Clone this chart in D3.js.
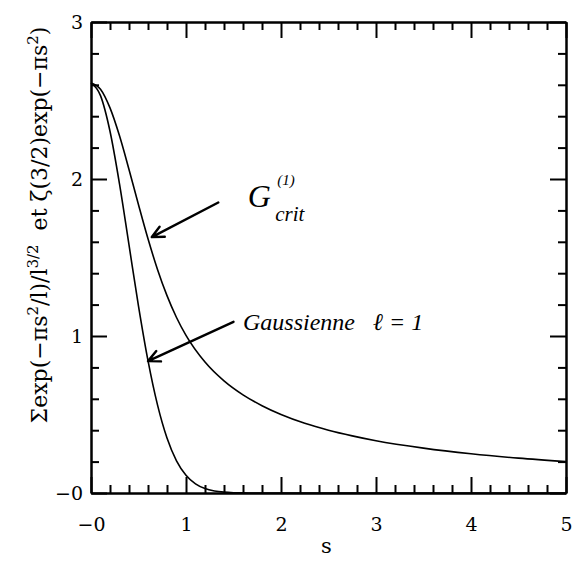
<!DOCTYPE html>
<meta charset="utf-8">
<style>
body { margin: 0; background: #fff; }
.axis path, .axis line { fill: none; stroke: #000; stroke-width: 2; }
.axis text { font: 19px "DejaVu Serif", serif; fill: #000; }
.curve { fill: none; stroke: #000; stroke-width: 1.6; }
.note { font-family: "Liberation Serif", serif; font-style: italic; fill: #000; }
</style>
<body>
<script src="https://d3js.org/d3.v7.min.js"></script>
<script>
var width = 582, height = 574;
var margin = {left: 91, right: 16, top: 22, bottom: 81};

// values
var gaussS = [0, 0.1, 0.2, 0.3, 0.4, 0.5, 0.6, 0.7, 0.8, 0.9, 1.0, 1.1, 1.2, 1.3, 1.4, 1.5, 1.6, 1.8, 2, 3, 4, 5];
var gaussY = [2.612, 2.531, 2.304, 1.969, 1.580, 1.191, 0.843, 0.561, 0.350, 0.205, 0.113, 0.058, 0.028, 0.013, 0.0055, 0.002, 0.0008, 0, 0, 0, 0, 0];
var critS = [0, 0.1, 0.2, 0.3, 0.4, 0.5, 0.6, 0.7, 0.8, 0.9, 1.0, 1.2, 1.4, 1.6, 1.8, 2.0, 2.25, 2.5, 2.75, 3.0, 3.5, 4.0, 4.5, 5.0];
var critY = [2.612, 2.572, 2.453, 2.275, 2.061, 1.836, 1.619, 1.424, 1.257, 1.118, 1.004, 0.834, 0.714, 0.625, 0.556, 0.500, 0.444, 0.400, 0.364, 0.333, 0.286, 0.250, 0.222, 0.200];

var xTicks = [0, 1, 2, 3, 4, 5];
var xTickLabels = ["\u22120", "1", "2", "3", "4", "5"];
var yTicks = [0, 1, 2, 3];
var yTickLabels = ["\u22120", "1", "2", "3"];

var svg = d3.select("body").append("svg")
    .attr("width", width)
    .attr("height", height);

var x = d3.scaleLinear().domain([0, 5]).range([margin.left, width - margin.right]);
var y = d3.scaleLinear().domain([0, 3]).range([height - margin.bottom, margin.top]);

var xMinor = d3.range(0, 5.001, 0.2).filter(function(v) { return Math.abs(v - Math.round(v)) > 1e-6; });
var yMinor = d3.range(0, 3.001, 0.2).filter(function(v) { return Math.abs(v - Math.round(v)) > 1e-6; });

var x0 = x.range()[0], x1 = x.range()[1], y0 = y.range()[0], y1 = y.range()[1];

// minor ticks
svg.append("g").attr("class", "axis").attr("transform", "translate(0," + y0 + ")")
    .call(d3.axisBottom(x).tickValues(xMinor).tickSize(-8).tickSizeOuter(0).tickFormat(""));
svg.append("g").attr("class", "axis").attr("transform", "translate(0," + y1 + ")")
    .call(d3.axisTop(x).tickValues(xMinor).tickSize(-8).tickSizeOuter(0).tickFormat(""));
svg.append("g").attr("class", "axis").attr("transform", "translate(" + x0 + ",0)")
    .call(d3.axisLeft(y).tickValues(yMinor).tickSize(-8).tickSizeOuter(0).tickFormat(""));
svg.append("g").attr("class", "axis").attr("transform", "translate(" + x1 + ",0)")
    .call(d3.axisRight(y).tickValues(yMinor).tickSize(-8).tickSizeOuter(0).tickFormat(""));

// major ticks + labels
svg.append("g").attr("class", "axis").attr("transform", "translate(0," + y0 + ")")
    .call(d3.axisBottom(x).tickValues(xTicks).tickSize(-16).tickSizeOuter(0).tickPadding(25)
        .tickFormat(function(d, i) { return xTickLabels[i]; }));
svg.append("g").attr("class", "axis").attr("transform", "translate(0," + y1 + ")")
    .call(d3.axisTop(x).tickValues(xTicks).tickSize(-16).tickSizeOuter(0).tickFormat(""));
svg.append("g").attr("class", "axis").attr("transform", "translate(" + x0 + ",0)")
    .call(d3.axisLeft(y).tickValues(yTicks).tickSize(-16).tickSizeOuter(0).tickPadding(8)
        .tickFormat(function(d, i) { return yTickLabels[i]; }));
svg.append("g").attr("class", "axis").attr("transform", "translate(" + x1 + ",0)")
    .call(d3.axisRight(y).tickValues(yTicks).tickSize(-16).tickSizeOuter(0).tickFormat(""));

// curves
var line = d3.line().curve(d3.curveMonotoneX)
    .x(function(d) { return x(d[0]); })
    .y(function(d) { return y(d[1]); });

svg.append("path").attr("class", "curve")
    .attr("d", line(d3.zip(gaussS, gaussY)));
svg.append("path").attr("class", "curve")
    .attr("d", line(d3.zip(critS, critY)));

// axis titles
svg.append("text")
    .attr("x", (x0 + x1) / 2 - 2).attr("y", 553)
    .attr("text-anchor", "middle")
    .style("font", "21px 'DejaVu Serif', serif")
    .text("s");

var yl = svg.append("text")
    .attr("transform", "translate(47,225) rotate(-90)")
    .attr("text-anchor", "middle")
    .style("font", "22px 'DejaVu Serif', serif");
yl.append("tspan").text("\u03A3exp(\u2212\u03C0s");
yl.append("tspan").attr("dy", -9).style("font-size", "15px").text("2");
yl.append("tspan").attr("dy", 9).text("/l)/l");
yl.append("tspan").attr("dy", -9).style("font-size", "15px").text("3/2");
yl.append("tspan").attr("dy", 9).text("\u00A0 et \u03B6(3/2)exp(\u2212\u03C0s");
yl.append("tspan").attr("dy", -9).style("font-size", "15px").text("2");
yl.append("tspan").attr("dy", 9).text(")");

// hand-written annotations (positions in data units)
var arrows = [
    {from: [1.34, 1.85], to: [0.64, 1.63]},
    {from: [1.50, 1.09], to: [0.60, 0.84]}
];
arrows.forEach(function(a) {
    var fx = x(a.from[0]), fy = y(a.from[1]), tx = x(a.to[0]), ty = y(a.to[1]);
    var ang = Math.atan2(fy - ty, fx - tx);
    var L = 13, sp = 0.45;
    svg.append("path")
        .attr("d", "M" + fx + "," + fy + "L" + tx + "," + ty +
            "M" + (tx + L * Math.cos(ang - sp)) + "," + (ty + L * Math.sin(ang - sp)) +
            "L" + tx + "," + ty +
            "L" + (tx + L * Math.cos(ang + sp)) + "," + (ty + L * Math.sin(ang + sp)))
        .attr("fill", "none").attr("stroke", "#000").attr("stroke-width", 2.4)
        .attr("stroke-linecap", "round").attr("stroke-linejoin", "round");
});

var gNote = svg.append("g");
gNote.append("text").attr("class", "note")
    .attr("x", x(1.65)).attr("y", y(1.82)).style("font-size", "32px").text("G");
gNote.append("text").attr("class", "note")
    .attr("x", x(1.96)).attr("y", y(1.96)).style("font-size", "15px").text("(1)");
gNote.append("text").attr("class", "note")
    .attr("x", x(1.94)).attr("y", y(1.73)).style("font-size", "21px").text("crit");

svg.append("text").attr("class", "note")
    .attr("x", x(1.6)).attr("y", y(1.04))
    .style("font-size", "24px")
    .text("Gaussienne\u00A0\u00A0\u00A0\u2113 = 1");
</script>
</body>
